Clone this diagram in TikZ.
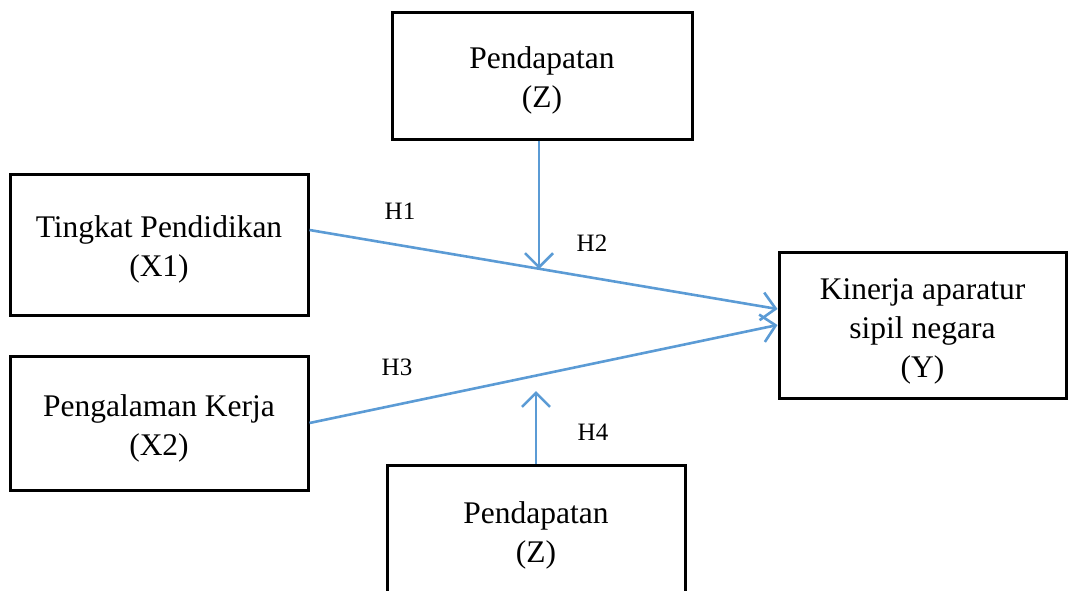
\documentclass[tikz,border=0pt]{standalone}
\usepackage{fontspec}
\setmainfont{Liberation Serif}
\usetikzlibrary{arrows.meta}
\definecolor{lineblue}{RGB}{91,155,213}
\tikzset{
  varbox/.style={draw=black, line width=3pt, rectangle, inner sep=0pt},
  boxtext/.style={align=center, inner sep=0pt, font=\fontsize{31.5}{39}\selectfont},
  link/.style={draw=lineblue, line width=2.6pt,
    -{Straight Barb[length=14pt,width=28pt,line width=2.6pt]}},
  hlabel/.style={font=\fontsize{25}{28}\selectfont, inner sep=0pt}
}
\begin{document}
\begin{tikzpicture}[x=1pt,y=-1pt]
\useasboundingbox (0,0) rectangle (1070,590);
\node[varbox, minimum width=300pt, minimum height=127pt] (zt) at (542,75.5) {};
\node[varbox, minimum width=298pt, minimum height=141pt] (x1) at (159,244.5) {};
\node[varbox, minimum width=298pt, minimum height=134pt] (x2) at (159,423) {};
\node[varbox, minimum width=287pt, minimum height=146pt] (y) at (922.5,325) {};
\node[varbox, minimum width=298pt, minimum height=130pt] (zb) at (536,530) {};

\node[boxtext] (tzt) at ([yshift=-5pt]zt.center) {Pendapatan\\(Z)};
\node[boxtext] (tx1) at ([yshift=-5pt]x1.center) {Tingkat Pendidikan\\(X1)};
\node[boxtext] (tx2) at ([yshift=-5pt]x2.center) {Pengalaman Kerja\\(X2)};
\node[boxtext] (ty) at ([yshift=-6pt]y.center) {Kinerja aparatur\\sipil negara\\(Y)};
\node[boxtext] (tzb) at ([yshift=-5pt]zb.center) {Pendapatan\\(Z)};

\coordinate (m1) at (539,269);
\coordinate (m2) at (536,391);

\draw[link] ([yshift=14.5pt]x1.east) -- ([yshift=16pt]y.west);
\draw[link] (x2.east) -- (y.west);
\draw[link] (zt.south -| m1) -- (m1);
\draw[link] (zb.north -| m2) -- (m2);

\node[hlabel] (h1) at (400,211) {H1};
\node[hlabel] (h2) at (592,243) {H2};
\node[hlabel] (h3) at (397,367) {H3};
\node[hlabel] (h4) at (593,432) {H4};
\end{tikzpicture}
\end{document}
